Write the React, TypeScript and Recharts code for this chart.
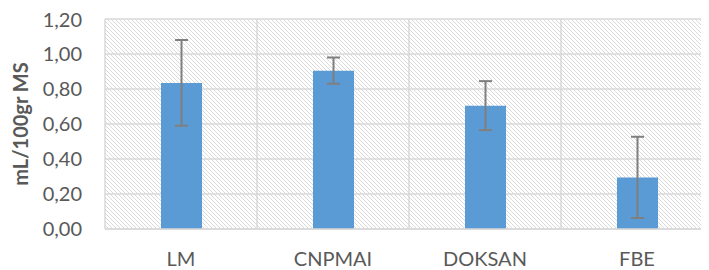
import React from 'react';
import { BarChart, Bar, XAxis, YAxis, CartesianGrid, ErrorBar } from 'recharts';

const categories = ['LM', 'CNPMAI', 'DOKSAN', 'FBE'];
const values = [0.835, 0.905, 0.705, 0.295];
const errors = [0.245, 0.075, 0.14, 0.232];
const yTicks = [0, 0.2, 0.4, 0.6, 0.8, 1.0, 1.2];

const data = categories.map((name, i) => ({ name, value: values[i], err: errors[i] }));

const FONT = 'Lato, "Open Sans", sans-serif';
const TEXT = '#595959';
const GRID = '#d9d9d9';

export default function App() {
  return (
    <div style={{ width: 701, overflow: 'hidden' }}>
      <BarChart
        width={720}
        height={262}
        data={data}
        margin={{ top: 11, right: 15, bottom: 0, left: 0 }}
        style={{ fontFamily: FONT }}
      >
        <defs>
          <pattern id="hatch" patternUnits="userSpaceOnUse" width="4" height="4">
            <rect x="0" y="0" width="4" height="4" fill="#ffffff" />
            <path d="M-1,-1 L5,5 M-1,3 L1,5 M3,-1 L5,1" stroke="#dadada" strokeWidth="1" />
          </pattern>
        </defs>
        <CartesianGrid
          fill="url(#hatch)"
          stroke={GRID}
          strokeWidth={1.5}
          verticalCoordinatesGenerator={({ offset }: any) =>
            categories.map((_, i) => offset.left + (i * offset.width) / categories.length).concat([offset.left + offset.width])
          }
        />
        <XAxis
          dataKey="name"
          height={41}
          axisLine={{ stroke: GRID, strokeWidth: 1.5 }}
          tickLine={false}
          tickSize={0}
          tickMargin={23}
          tick={{ fill: TEXT, fontSize: 20, fontFamily: FONT }}
        />
        <YAxis
          width={97}
          domain={[0, 1.2]}
          ticks={yTicks}
          axisLine={false}
          tickLine={false}
          tickSize={0}
          tickMargin={23}
          tickFormatter={(v: number) => v.toFixed(2).replace('.', ',')}
          tick={{ fill: TEXT, fontSize: 20, fontFamily: FONT }}
          label={{
            value: 'mL/100gr MS',
            angle: -90,
            position: 'insideLeft',
            offset: 13,
            style: { fill: TEXT, fontSize: 20, fontWeight: 'bold', fontFamily: FONT, textAnchor: 'middle' },
          }}
        />
        <Bar dataKey="value" fill="#5b9bd5" barSize={41} isAnimationActive={false}>
          <ErrorBar dataKey="err" width={6.5} stroke="#7f7f7f" strokeWidth={2} direction="y" />
        </Bar>
      </BarChart>
    </div>
  );
}
